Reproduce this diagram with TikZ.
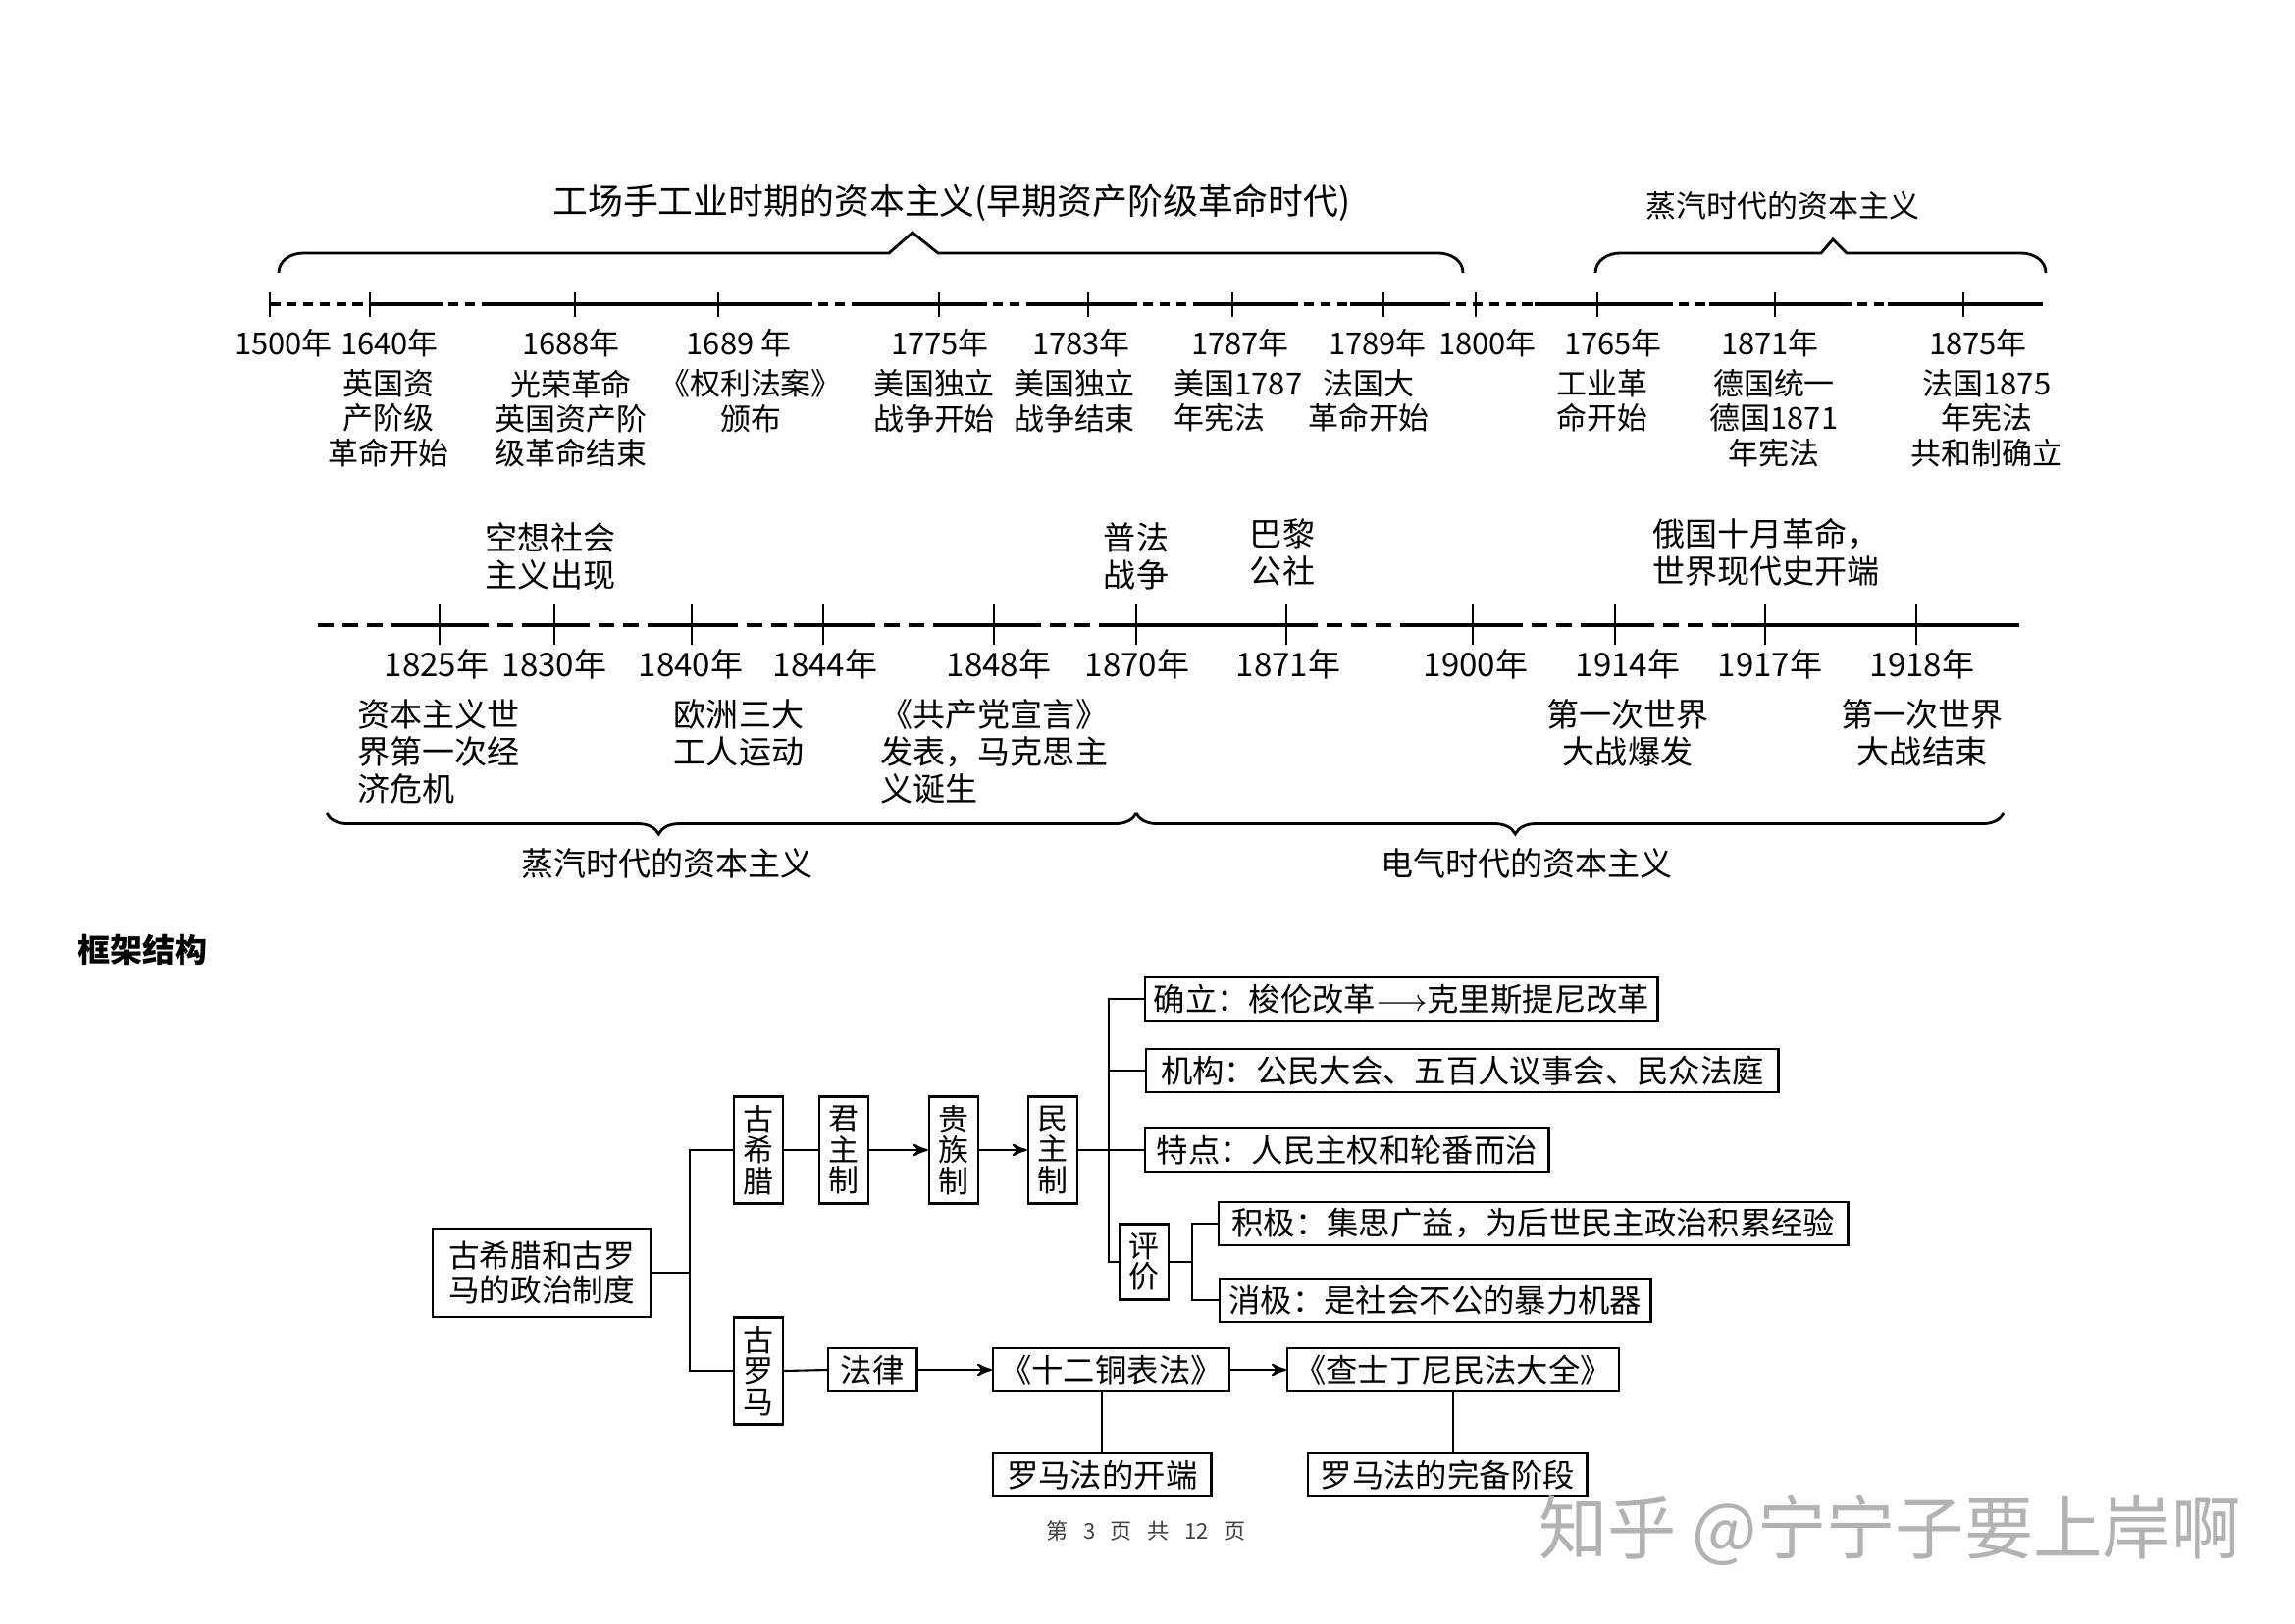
\documentclass[tikz,border=0pt]{standalone}
\usepackage{fontspec}
\setmainfont{Noto Sans CJK SC}
\usepackage{tikz}
\usetikzlibrary{arrows,positioning,decorations.pathreplacing}
\tikzset{
  tl_title/.style = {inner sep=0pt, font=\fontsize{10.2}{12}\selectfont},
  tl_yr/.style = {inner sep=0pt, font=\fontsize{8.8}{10}\selectfont},% upper axis, years
  tl_ev/.style = {tl_yr, align=center, anchor=north},% upper axis, events
  tl_yr2/.style = {inner sep=0pt, font=\fontsize{9.4}{10.8}\selectfont},% lower axis, years
  tl_ev2/.style = {tl_yr2, align=center, anchor=north},% lower axis, events
  tl_axis/.style = {line width=0.9pt},
  tl_dash/.style = {line width=0.9pt, dash pattern=on 3pt off 1.8pt},
  tl_dash2/.style = {line width=0.9pt, dash pattern=on 4.5pt off 2.6pt},
  tl_tick/.style = {line width=0.6pt},
  tl_brace/.style = {line width=0.8pt},
  fc_head/.style = {inner sep=0pt, anchor=west, font=\fontsize{9.4}{11}\selectfont\bfseries},
  fc_box/.style = {draw, line width=0.7pt, inner xsep=2pt, inner ysep=0pt,
    minimum height=0.44cm, font=\fontsize{9.2}{11}\selectfont},% framed box
  fc_vbox/.style = {fc_box, align=center, minimum width=0.5cm,
    minimum height=1.09cm, font=\fontsize{8.8}{9}\selectfont},% framed box, upright text
  fc_line/.style = {line width=0.6pt}
}

\begin{document}
\begin{tikzpicture}[x=0.01cm, y=-0.01cm, >=stealth']
  \useasboundingbox (0,0) rectangle (2339,1654);

  % upper axis
  \node[tl_title] (era1) at (970,207) {工场手工业时期的资本主义(早期资产阶级革命时代)};
  \node[tl_yr] (era2) at (1817,210) {蒸汽时代的资本主义};
  \draw[tl_brace] (284,278) to[out=90,in=180] (309,258) -- (906,258) -- (930,237)
    -- (956,258) -- (1466,258) to[out=0,in=90] (1491,278);
  \draw[tl_brace] (1626,278) to[out=90,in=180] (1651,258) -- (1856,258) -- (1868,244)
    -- (1882,258) -- (2060,258) to[out=0,in=90] (2085,278);
  \draw[tl_axis] (377,310) -- (440,310) (498,310) -- (817,310) (868,310) -- (995,310)
    (1050,310) -- (1148,310) (1218,310) -- (1312,310) (1376,310) -- (1467,310)
    (1564,310) -- (1694,310) (1742,310) -- (1876,310) (1924,310) -- (2082,310);
  \draw[tl_dash] (275,310) -- (377,310) (440,310) -- (498,310) (817,310) -- (868,310)
    (995,310) -- (1050,310) (1148,310) -- (1218,310) (1312,310) -- (1376,310)
    (1467,310) -- (1564,310) (1694,310) -- (1742,310) (1876,310) -- (1924,310);
  \draw[tl_tick] (275,298) -- (275,323) (377,298) -- (377,323) (586,298) -- (586,323)
    (732,298) -- (732,323) (957,298) -- (957,323) (1109,298) -- (1109,323)
    (1256,298) -- (1256,323) (1410,298) -- (1410,323) (1504,298) -- (1504,323)
    (1628,298) -- (1628,323) (1809,298) -- (1809,323) (2001,298) -- (2001,323);

  \node[tl_yr] (ya1500) at (289,350) {1500年};
  \node[tl_yr] (ya1640) at (397,350) {1640年};
  \node[tl_yr] (ya1688) at (582,350) {1688年};
  \node[tl_yr] (ya1689) at (753,350) {1689 年};
  \node[tl_yr] (ya1775) at (958,350) {1775年};
  \node[tl_yr] (ya1783) at (1102,350) {1783年};
  \node[tl_yr] (ya1787) at (1264,350) {1787年};
  \node[tl_yr] (ya1789) at (1404,350) {1789年};
  \node[tl_yr] (ya1800) at (1516,350) {1800年};
  \node[tl_yr] (ya1765) at (1644,350) {1765年};
  \node[tl_yr] (ya1871) at (1804,350) {1871年};
  \node[tl_yr] (ya1875) at (2016,350) {1875年};

  \node[tl_ev] (ea1640) at (396,376) {英国资\\产阶级\\革命开始};
  \node[tl_ev] (ea1688) at (582,376) {光荣革命\\英国资产阶\\级革命结束};
  \node[tl_ev] (ea1689) at (765,376) {《权利法案》\\颁布};
  \node[tl_ev] (ea1775) at (952,376) {美国独立\\战争开始};
  \node[tl_ev] (ea1783) at (1095,376) {美国独立\\战争结束};
  \node[tl_ev, anchor=north west, align=left] (ea1787) at (1196,376) {美国1787\\年宪法};
  \node[tl_ev] (ea1789) at (1395,376) {法国大\\革命开始};
  \node[tl_ev] (ea1765) at (1633,376) {工业革\\命开始};
  \node[tl_ev] (ea1871) at (1808,376) {德国统一\\德国1871\\年宪法};
  \node[tl_ev] (ea1875) at (2025,376) {法国1875\\年宪法\\共和制确立};

  % lower axis
  \node[tl_ev2] (ab1830) at (561,532) {空想社会\\主义出现};
  \node[tl_ev2] (ab1870) at (1158,532) {普法\\战争};
  \node[tl_ev2] (ab1871) at (1307,528) {巴黎\\公社};
  \node[tl_ev2] (ab1917) at (1800,528) {俄国十月革命，\\世界现代史开端};

  \draw[tl_axis] (412,637) -- (482,637) (536,637) -- (585,637) (676,637) -- (736,637)
    (809,637) -- (876,637) (961,637) -- (1045,637) (1127,637) -- (1327,637)
    (1439,637) -- (1536,637) (1621,637) -- (1670,637) (1764,637) -- (2058,637);
  \draw[tl_dash2] (324,637) -- (412,637) (482,637) -- (536,637) (585,637) -- (676,637)
    (736,637) -- (809,637) (876,637) -- (961,637) (1045,637) -- (1127,637)
    (1327,637) -- (1439,637) (1536,637) -- (1621,637) (1670,637) -- (1764,637);
  \draw[tl_tick] (448,616) -- (448,657) (565,616) -- (565,657) (705,616) -- (705,657)
    (839,616) -- (839,657) (1013,616) -- (1013,657) (1158,616) -- (1158,657)
    (1311,616) -- (1311,657) (1501,616) -- (1501,657) (1646,616) -- (1646,657)
    (1799,616) -- (1799,657) (1953,616) -- (1953,657);

  \node[tl_yr2] (yb1825) at (445,677) {1825年};
  \node[tl_yr2] (yb1830) at (565,677) {1830年};
  \node[tl_yr2] (yb1840) at (704,677) {1840年};
  \node[tl_yr2] (yb1844) at (841,677) {1844年};
  \node[tl_yr2] (yb1848) at (1018,677) {1848年};
  \node[tl_yr2] (yb1870) at (1159,677) {1870年};
  \node[tl_yr2] (yb1871) at (1313,677) {1871年};
  \node[tl_yr2] (yb1900) at (1504,677) {1900年};
  \node[tl_yr2] (yb1914) at (1659,677) {1914年};
  \node[tl_yr2] (yb1917) at (1804,677) {1917年};
  \node[tl_yr2] (yb1918) at (1959,677) {1918年};

  \node[tl_ev2, anchor=north west, align=left] (bb1825) at (364,712) {资本主义世\\界第一次经\\济危机};
  \node[tl_ev2] (bb1840) at (753,712) {欧洲三大\\工人运动};
  \node[tl_ev2, anchor=north west, align=left] (bb1848) at (897,712) {《共产党宣言》\\发表，马克思主\\义诞生};
  \node[tl_ev2] (bb1914) at (1659,712) {第一次世界\\大战爆发};
  \node[tl_ev2] (bb1918) at (1959,712) {第一次世界\\大战结束};

  \draw[tl_brace, decorate, decoration={brace, mirror, amplitude=0.21cm, aspect=0.41}]
    (333,829) -- (1158,829);
  \draw[tl_brace, decorate, decoration={brace, mirror, amplitude=0.21cm, aspect=0.437}]
    (1158,829) -- (2042,829);
  \node[tl_yr2] (eb1) at (680,880) {蒸汽时代的资本主义};
  \node[tl_yr2] (eb2) at (1556,880) {电气时代的资本主义};

  % framework
  \node[fc_head] (head) at (79,968) {框架结构};

  \node[fc_box, align=center, minimum width=2.22cm, minimum height=0.9cm,
    font=\fontsize{9}{10.2}\selectfont] (root) at (552,1297) {古希腊和古罗\\马的政治制度};
  \node[fc_vbox] (gr) at (773,1172) {古\\希\\腊};
  \node[fc_vbox] (jun) at (860,1172) {君\\主\\制};
  \node[fc_vbox] (gui) at (972,1172) {贵\\族\\制};
  \node[fc_vbox] (minzhu) at (1073,1172) {民\\主\\制};
  \node[fc_vbox, minimum height=0.77cm] (pingjia) at (1166,1286) {评\\价};
  \node[fc_vbox] (luo) at (773,1397) {古\\罗\\马};

  \node[fc_box, anchor=west, minimum width=5.22cm] (queli) at (1166,1018)
    {确立：梭伦改革$\longrightarrow$克里斯提尼改革};
  \node[fc_box, anchor=west, minimum width=6.44cm] (jigou) at (1167,1091)
    {机构：公民大会、五百人议事会、民众法庭};
  \node[fc_box, anchor=west, minimum width=4.11cm] (tedian) at (1166,1172)
    {特点：人民主权和轮番而治};
  \node[fc_box, anchor=west, minimum width=6.41cm] (jiji) at (1241,1247)
    {积极：集思广益，为后世民主政治积累经验};
  \node[fc_box, anchor=west, minimum width=4.39cm] (xiaoji) at (1242,1325)
    {消极：是社会不公的暴力机器};

  \node[fc_box, anchor=west, minimum width=0.9cm] (falv) at (843,1396) {法律};
  \node[fc_box, anchor=west, minimum width=2.22cm] (shier) at (1011,1396) {《十二铜表法》};
  \node[fc_box, anchor=west, minimum width=3.27cm] (chashi) at (1311,1396) {《查士丁尼民法大全》};
  \node[fc_box, anchor=west, minimum width=2.22cm] (kaiduan) at (1011,1503) {罗马法的开端};
  \node[fc_box, anchor=west, minimum width=2.84cm] (wanbei) at (1332,1503) {罗马法的完备阶段};

  \coordinate (trunk) at (703,1297);
  \coordinate (bus) at (1130,1172);
  \coordinate (bus2) at (1215,1286);

  \draw[fc_line] (root.east) -- (trunk);
  \draw[fc_line] (gr.west) -| (trunk) |- (luo.west);
  \draw[fc_line] (gr.east) -- (jun.west);
  \draw[fc_line, ->] (jun.east) -- (gui.west);
  \draw[fc_line, ->] (gui.east) -- (minzhu.west);
  \draw[fc_line] (minzhu.east) -- (tedian.west);
  \draw[fc_line] (queli.west) -| (bus) |- (pingjia.west);
  \draw[fc_line] (jigou.west) -- (jigou.west -| bus);
  \draw[fc_line] (pingjia.east) -- (bus2);
  \draw[fc_line] (jiji.west) -| (bus2) |- (xiaoji.west);
  \draw[fc_line] (luo.east) -- (falv.west);
  \draw[fc_line, ->] (falv.east) -- (shier.west);
  \draw[fc_line, ->] (shier.east) -- (chashi.west);
  \draw[fc_line] (kaiduan.north) -- (kaiduan.north |- shier.south);
  \draw[fc_line] (chashi.south) -- (chashi.south |- wanbei.north);

  \node[inner sep=0pt, text=black!75, font=\fontsize{6.3}{7}\selectfont] (page) at (1168,1560)
    {第\hspace{0.7em}3\hspace{0.7em}页\hspace{0.7em}共\hspace{0.7em}12\hspace{0.7em}页};
  \node[inner sep=0pt, text=gray!60, font=\fontsize{20}{24}\selectfont] (mark) at (1926,1560)
    {知乎 @宁宁子要上岸啊};
\end{tikzpicture}
\end{document}
